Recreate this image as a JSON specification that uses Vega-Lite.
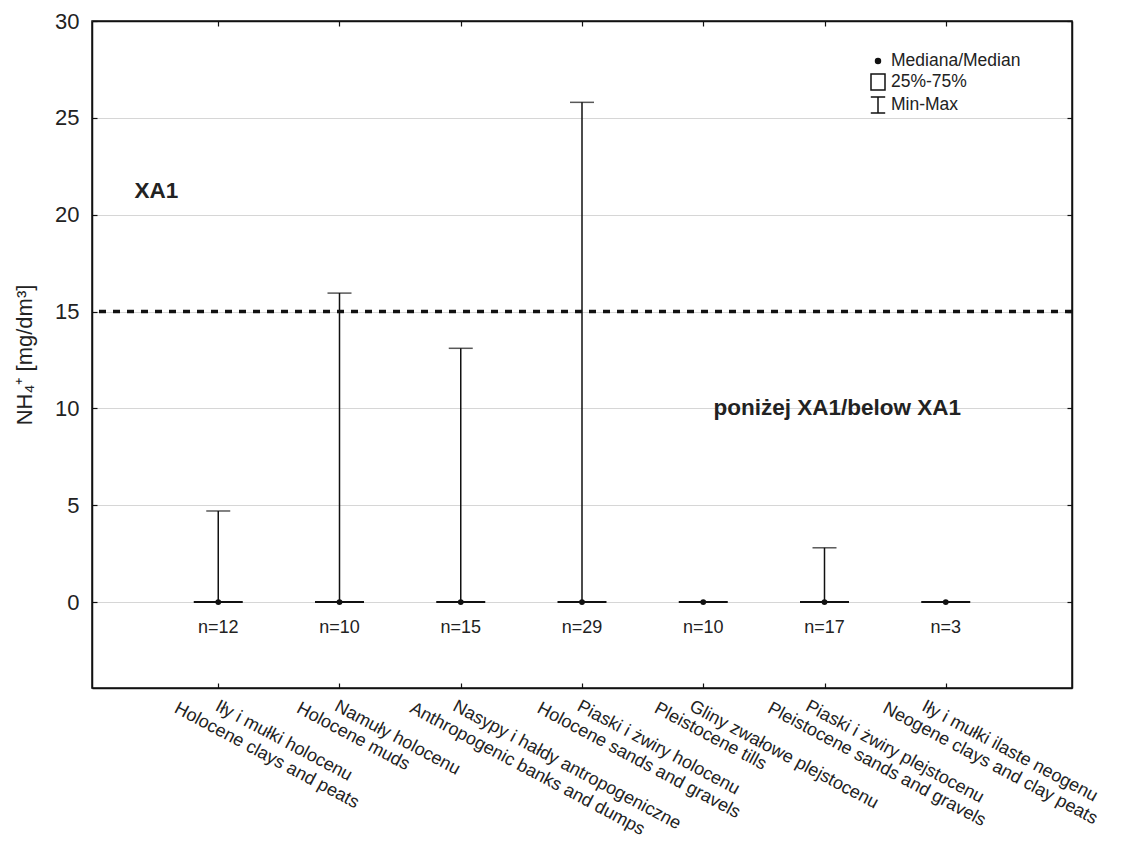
{
  "$schema": "https://vega.github.io/schema/vega-lite/v6.json",
  "width": 980,
  "height": 667,
  "autosize": {"type": "none"},
  "padding": {"left": 92, "top": 21, "right": 49, "bottom": 155},
  "background": "white",
  "config": {
    "font": "Liberation Sans",
    "view": {"stroke": "#111", "strokeWidth": 1.5},
    "axis": {"domainColor": "#111", "domainWidth": 1.5, "tickColor": "#111", "tickWidth": 1.2, "labelColor": "#222", "titleColor": "#222", "labelFont": "Liberation Sans", "titleFont": "Liberation Sans"},
    "legend": {"labelFont": "Liberation Sans"}
  },
  "datasets": {
    "stats": [
      {"pos": 1, "pl": "Iły i mułki holocenu", "en": "Holocene clays and peats", "min": 0, "q1": 0, "median": 0, "q3": 0, "max": 4.7, "nlabel": "n=12"},
      {"pos": 2, "pl": "Namuły holocenu", "en": "Holocene muds", "min": 0, "q1": 0, "median": 0, "q3": 0, "max": 15.95, "nlabel": "n=10"},
      {"pos": 3, "pl": "Nasypy i hałdy antropogeniczne", "en": "Anthropogenic banks and dumps", "min": 0, "q1": 0, "median": 0, "q3": 0, "max": 13.1, "nlabel": "n=15"},
      {"pos": 4, "pl": "Piaski i żwiry holocenu", "en": "Holocene sands and gravels", "min": 0, "q1": 0, "median": 0, "q3": 0, "max": 25.8, "nlabel": "n=29"},
      {"pos": 5, "pl": "Gliny zwałowe plejstocenu", "en": "Pleistocene tills", "min": 0, "q1": 0, "median": 0, "q3": 0, "max": 0, "nlabel": "n=10"},
      {"pos": 6, "pl": "Piaski i żwiry plejstocenu", "en": "Pleistocene sands and gravels", "min": 0, "q1": 0, "median": 0, "q3": 0, "max": 2.8, "nlabel": "n=17"},
      {"pos": 7, "pl": "Iły i mułki ilaste neogenu", "en": "Neogene clays and clay peats", "min": 0, "q1": 0, "median": 0, "q3": 0, "max": 0, "nlabel": "n=3"}
    ],
    "notes": [
      {"x": 0.31, "y": 21.2, "txt": "XA1"},
      {"x": 5.085, "y": 10.0, "txt": "poniżej XA1/below XA1"}
    ],
    "legendItems": [
      {"item": "Mediana/Median"},
      {"item": "25%-75%"},
      {"item": "Min-Max"}
    ]
  },
  "resolve": {"axis": {"x": "independent", "y": "independent"}},
  "layer": [
    {
      "data": {"name": "stats"},
      "mark": {"type": "rule", "strokeWidth": 1.5, "color": "#111"},
      "encoding": {
        "x": {"field": "pos", "type": "quantitative", "scale": {"domain": [0, 8], "nice": false, "zero": false},
          "axis": {"orient": "bottom", "values": [1, 2, 3, 4, 5, 6, 7], "title": null, "grid": false,
            "labelExpr": "['', 'Iły i mułki holocenu', 'Namuły holocenu', 'Nasypy i hałdy antropogeniczne', 'Piaski i żwiry holocenu', 'Gliny zwałowe plejstocenu', 'Piaski i żwiry plejstocenu', 'Iły i mułki ilaste neogenu', ''][datum.value]",
            "labelAngle": 28, "labelAlign": "left", "labelBaseline": "top", "labelFontSize": 18, "labelPadding": 14,
            "labelOffset": {"condition": [{"test": "datum.value == 1", "value": 2}, {"test": "datum.value == 3", "value": -3}, {"test": "datum.value == 5", "value": -9}, {"test": "datum.value == 6", "value": -14}, {"test": "datum.value == 7", "value": -19}], "value": 0},
            "labelOverlap": false, "labelBound": false, "labelFlush": false, "labelLimit": 0, "tickSize": -5, "domain": true}},
        "y": {"field": "min", "type": "quantitative", "scale": {"domain": [-4.44, 30], "nice": false, "zero": false},
          "axis": {"orient": "left", "values": [0, 5, 10, 15, 20, 25, 30], "title": "NH₄⁺ [mg/dm³]", "titleFontSize": 22, "titleFontWeight": "normal", "titlePadding": 18,
            "labelFontSize": 22, "labelPadding": 18, "tickSize": -5, "grid": true, "gridColor": "#d6d6d6", "gridWidth": 1.2, "domain": true}},
        "y2": {"field": "max"}
      }
    },
    {
      "data": {"name": "stats"},
      "mark": {"type": "tick", "orient": "horizontal", "size": 24, "thickness": 1.5, "color": "#111"},
      "encoding": {
        "x": {"field": "pos", "type": "quantitative",
          "axis": {"orient": "bottom", "values": [1, 2, 3, 4, 5, 6, 7], "title": null, "grid": false,
            "labelExpr": "['', 'Holocene clays and peats', 'Holocene muds', 'Anthropogenic banks and dumps', 'Holocene sands and gravels', 'Pleistocene tills', 'Pleistocene sands and gravels', 'Neogene clays and clay peats', ''][datum.value]",
            "labelAngle": 28, "labelAlign": "left", "labelBaseline": "top", "labelFontSize": 18, "labelPadding": 11,
            "labelOffset": {"condition": [{"test": "datum.value == 1", "value": -39}, {"test": "datum.value == 2", "value": -38}, {"test": "datum.value == 3", "value": -46}, {"test": "datum.value == 5", "value": -44}, {"test": "datum.value == 6", "value": -52}, {"test": "datum.value == 7", "value": -58}], "value": -40},
            "labelOverlap": false, "labelBound": false, "labelFlush": false, "labelLimit": 0, "ticks": false, "domain": false}},
        "y": {"field": "max", "type": "quantitative",
          "axis": {"orient": "right", "values": [0, 5, 10, 15, 20, 25, 30], "title": null, "labels": false, "tickSize": -5, "grid": false, "domain": true}}
      }
    },
    {
      "data": {"name": "stats"},
      "mark": {"type": "tick", "orient": "horizontal", "size": 24, "thickness": 1.5, "color": "#111"},
      "encoding": {
        "x": {"field": "pos", "type": "quantitative", "axis": null},
        "y": {"field": "min", "type": "quantitative", "axis": null}
      }
    },
    {
      "data": {"name": "stats"},
      "mark": {"type": "bar", "size": 49, "fill": "white", "stroke": "#111", "strokeWidth": 2},
      "encoding": {
        "x": {"field": "pos", "type": "quantitative",
          "axis": {"orient": "top", "values": [1, 2, 3, 4, 5, 6, 7], "title": null, "labels": false, "tickSize": -5, "grid": false, "domain": true}},
        "y": {"field": "q1", "type": "quantitative", "axis": null},
        "y2": {"field": "q3"}
      }
    },
    {
      "data": {"name": "stats"},
      "mark": {"type": "point", "filled": true, "size": 33, "color": "#111", "opacity": 1},
      "encoding": {
        "x": {"field": "pos", "type": "quantitative", "axis": null},
        "y": {"field": "median", "type": "quantitative", "axis": null}
      }
    },
    {
      "data": {"name": "stats"},
      "mark": {"type": "text", "fontSize": 18, "color": "#222", "baseline": "middle", "align": "center"},
      "encoding": {
        "x": {"field": "pos", "type": "quantitative", "axis": null},
        "y": {"datum": -1.35, "type": "quantitative", "axis": null},
        "text": {"field": "nlabel"}
      }
    },
    {
      "data": {"values": [{"limit": "XA1"}]},
      "mark": {"type": "rule", "strokeDash": [7, 7], "strokeWidth": 3.5, "color": "#111"},
      "encoding": {
        "y": {"datum": 15, "type": "quantitative", "axis": null}
      }
    },
    {
      "data": {"name": "notes"},
      "mark": {"type": "text", "fontSize": 22.5, "fontWeight": "bold", "color": "#222", "baseline": "middle", "align": "left"},
      "encoding": {
        "x": {"field": "x", "type": "quantitative", "axis": null},
        "y": {"field": "y", "type": "quantitative", "axis": null},
        "text": {"field": "txt"}
      }
    },
    {
      "data": {"name": "legendItems"},
      "mark": {"type": "point", "filled": true, "opacity": 0, "strokeWidth": 1.5},
      "encoding": {
        "shape": {"field": "item", "type": "nominal",
          "scale": {"domain": ["Mediana/Median", "25%-75%", "Min-Max"],
            "range": ["M-0.31,0A0.31,0.31 0 1,0 0.31,0A0.31,0.31 0 1,0 -0.31,0Z", "M-0.875,-1H0.875V1H-0.875Z", "M-0.9,-1H0.9M0,-1V1M-0.9,1H0.9"]},
          "legend": {"title": null, "orient": "none", "legendX": 777, "legendY": 31, "labelFontSize": 17.5, "labelColor": "#222", "symbolSize": 256, "symbolStrokeWidth": 1.5, "symbolOpacity": 1, "rowPadding": 1, "labelOffset": 4}},
        "fill": {"field": "item", "type": "nominal",
          "scale": {"domain": ["Mediana/Median", "25%-75%", "Min-Max"], "range": ["#111", "transparent", "transparent"]},
          "legend": {"title": null, "orient": "none", "legendX": 777, "legendY": 31, "labelFontSize": 17.5, "labelColor": "#222", "symbolSize": 256, "symbolStrokeWidth": 1.5, "symbolOpacity": 1, "rowPadding": 1, "labelOffset": 4}},
        "stroke": {"field": "item", "type": "nominal",
          "scale": {"domain": ["Mediana/Median", "25%-75%", "Min-Max"], "range": ["#111", "#111", "#111"]},
          "legend": {"title": null, "orient": "none", "legendX": 777, "legendY": 31, "labelFontSize": 17.5, "labelColor": "#222", "symbolSize": 256, "symbolStrokeWidth": 1.5, "symbolOpacity": 1, "rowPadding": 1, "labelOffset": 4}}
      }
    }
  ]
}
